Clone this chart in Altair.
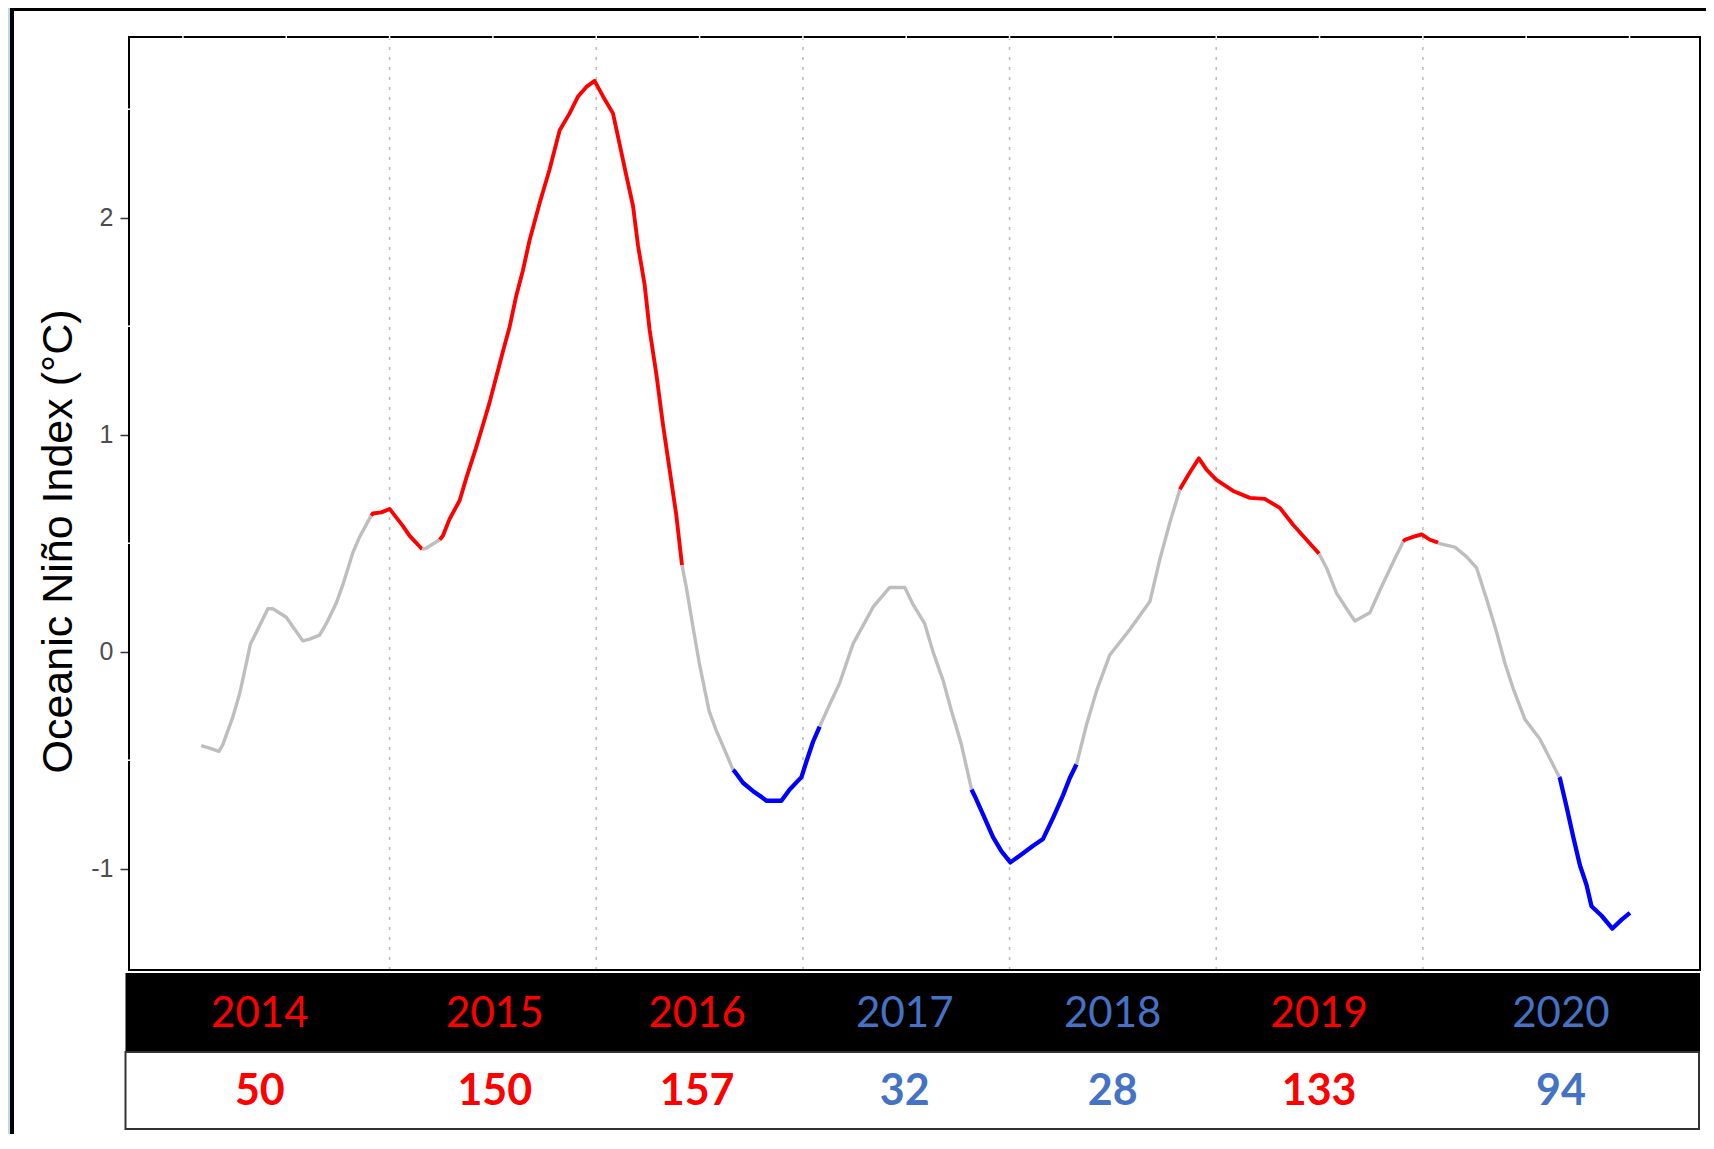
import altair as alt
import pandas as pd

# ---------------- data ----------------
# time (decimal year) and Oceanic Nino Index value of the traced line
t_vals = [
    2014.088, 2014.129, 2014.174, 2014.193, 2014.242, 2014.274, 2014.298, 2014.327, 2014.355, 2014.411,
    2014.435, 2014.500, 2014.532, 2014.580, 2014.613, 2014.661, 2014.693, 2014.742, 2014.774, 2014.822,
    2014.855, 2014.911,
    2014.919, 2014.960, 2015.000, 2015.064, 2015.097, 2015.158,
    2015.177, 2015.242,
    2015.258, 2015.290, 2015.339, 2015.371, 2015.419, 2015.452, 2015.484, 2015.516, 2015.548, 2015.581,
    2015.613, 2015.645, 2015.678, 2015.726, 2015.774, 2015.823, 2015.871, 2015.912, 2015.952, 2015.992,
    2016.033, 2016.081, 2016.113, 2016.145, 2016.178, 2016.202, 2016.234, 2016.258, 2016.291, 2016.323,
    2016.355, 2016.387, 2016.415,
    2016.436, 2016.468, 2016.500, 2016.546, 2016.581, 2016.622, 2016.662,
    2016.670, 2016.710, 2016.759, 2016.799, 2016.823, 2016.896, 2016.936, 2016.993, 2017.017, 2017.049,
    2017.081,
    2017.130, 2017.178, 2017.243, 2017.291, 2017.339, 2017.420, 2017.493, 2017.533, 2017.590, 2017.630,
    2017.678, 2017.719, 2017.767, 2017.816,
    2017.832, 2017.872, 2017.920, 2017.961, 2018.004, 2018.049, 2018.114, 2018.162, 2018.211, 2018.259,
    2018.291, 2018.324,
    2018.372, 2018.420, 2018.485, 2018.582, 2018.679, 2018.727, 2018.775, 2018.824,
    2018.832, 2018.872, 2018.916, 2018.953, 2019.001, 2019.082, 2019.163, 2019.235, 2019.308, 2019.372,
    2019.437, 2019.498,
    2019.534, 2019.582, 2019.631, 2019.671, 2019.743, 2019.792, 2019.856, 2019.905,
    2019.913, 2019.953, 2019.994, 2020.034, 2020.074,
    2020.082, 2020.155, 2020.211, 2020.260, 2020.308, 2020.357, 2020.397, 2020.437, 2020.494, 2020.566,
    2020.615, 2020.660,
    2020.663, 2020.695, 2020.728, 2020.760, 2020.792, 2020.816, 2020.865, 2020.917, 2020.962, 2021.002,
]
oni_vals = [
    -0.433, -0.444, -0.459, -0.428, -0.299, -0.195, -0.092, 0.037, 0.089, 0.198,
    0.198, 0.159, 0.115, 0.050, 0.058, 0.076, 0.128, 0.224, 0.309, 0.456,
    0.529, 0.627,
    0.637, 0.642, 0.658, 0.580, 0.534, 0.472,
    0.477, 0.516,
    0.534, 0.611, 0.697, 0.800, 0.942, 1.046, 1.149, 1.266, 1.382, 1.498,
    1.641, 1.757, 1.899, 2.067, 2.222, 2.403, 2.481, 2.559, 2.603, 2.631,
    2.559, 2.481, 2.339, 2.197, 2.054, 1.873, 1.692, 1.485, 1.278, 1.046,
    0.839, 0.632, 0.399,
    0.296, 0.115, -0.060, -0.273, -0.364, -0.454, -0.545,
    -0.552, -0.604, -0.643, -0.669, -0.687, -0.687, -0.635, -0.578, -0.506, -0.415,
    -0.345,
    -0.242, -0.144, 0.037, 0.120, 0.205, 0.296, 0.296, 0.218, 0.128, -0.002,
    -0.131, -0.273, -0.428, -0.635,
    -0.666, -0.751, -0.855, -0.920, -0.971, -0.940, -0.894, -0.863, -0.765, -0.661,
    -0.583, -0.519,
    -0.338, -0.183, -0.015, 0.102, 0.231, 0.425, 0.593, 0.748,
    0.761, 0.826, 0.891, 0.839, 0.792, 0.741, 0.709, 0.704, 0.663, 0.585,
    0.516, 0.451,
    0.386, 0.270, 0.198, 0.141, 0.179, 0.283, 0.412, 0.508,
    0.516, 0.529, 0.541, 0.516, 0.503,
    0.498, 0.482, 0.438, 0.386, 0.244, 0.089, -0.053, -0.170, -0.312, -0.402,
    -0.493, -0.578,
    -0.583, -0.713, -0.855, -0.984, -1.075, -1.173, -1.217, -1.276, -1.235, -1.204,
]
phase_vals = (["neutral"] * 22 + ["warm"] * 6 + ["neutral"] * 2 + ["warm"] * 33 +
              ["neutral"] * 7 + ["cool"] * 11 + ["neutral"] * 14 + ["cool"] * 12 +
              ["neutral"] * 8 + ["warm"] * 12 + ["neutral"] * 8 + ["warm"] * 5 +
              ["neutral"] * 12 + ["cool"] * 10)

# bottom table
year_labels = ["2014", "2015", "2016", "2017", "2018", "2019", "2020"]
year_counts = ["50", "150", "157", "32", "28", "133", "94"]
year_phase = ["warm", "warm", "warm", "cool", "cool", "warm", "cool"]
year_label_t = [2014.372, 2015.509, 2016.488, 2017.493, 2018.499, 2019.498, 2020.668]

# vertical dotted year boundaries
boundary_t = [2015, 2016, 2017, 2018, 2019, 2020]
# minor breaks (white nicks on the panel border)
minor_t = [2014.0, 2014.5, 2015.0, 2015.5, 2016.0, 2016.5, 2017.0, 2017.5,
           2018.0, 2018.5, 2019.0, 2019.5, 2020.0, 2020.5, 2021.0]
minor_v = [-0.5, 0.5, 1.5, 2.5]
y_ticks = [-1, 0, 1, 2]

# ---------------- build line segments ----------------
rows = []
seg = 0
for i, (t, v, p) in enumerate(zip(t_vals, oni_vals, phase_vals)):
    if i > 0 and p != phase_vals[i - 1]:
        seg += 1
        rows.append(dict(t=t_vals[i - 1], v=oni_vals[i - 1], phase=p, seg=seg))
    rows.append(dict(t=t, v=v, phase=p, seg=seg))
line_df = pd.DataFrame(rows)

tab_df = pd.DataFrame(dict(t=year_label_t, year=year_labels, n=year_counts, phase=year_phase))
bnd_df = pd.DataFrame(dict(t=boundary_t))
minor_x_df = pd.DataFrame(dict(t=minor_t))
minor_y_df = pd.DataFrame(dict(v=minor_v))

W, H = 1571, 933
xs = alt.Scale(domain=[2013.739, 2021.341], nice=False, zero=False)
ys = alt.Scale(domain=[-1.467, 2.833], nice=False, zero=False)
one = alt.Data(values=[{}])

# ---------------- chrome ----------------
frame_blue = alt.Chart(one).mark_rect(color="#BDD7EE").encode(
    x=alt.value(-121), x2=alt.value(-119), y=alt.value(-29), y2=alt.value(1097))
frame_left = alt.Chart(one).mark_rect(color="black").encode(
    x=alt.value(-119), x2=alt.value(-115), y=alt.value(-29), y2=alt.value(1097))
frame_top = alt.Chart(one).mark_rect(color="black").encode(
    x=alt.value(-119), x2=alt.value(1577), y=alt.value(-29), y2=alt.value(-26))

band_black = alt.Chart(one).mark_rect(color="black").encode(
    x=alt.value(-3.5), x2=alt.value(W), y=alt.value(936), y2=alt.value(1015))
band_white = alt.Chart(one).mark_rect(fill="white", stroke="#333333", strokeWidth=2).encode(
    x=alt.value(-3.5), x2=alt.value(W - 1), y=alt.value(1015), y2=alt.value(1092))

grid = alt.Chart(bnd_df).mark_rule(color="#BEBEBE", strokeDash=[3, 7], strokeWidth=1.6).encode(
    x=alt.X("t:Q", scale=xs, axis=None))

line = alt.Chart(line_df).mark_line(strokeJoin="round", strokeCap="butt").encode(
    x=alt.X("t:Q", scale=xs, axis=None),
    y=alt.Y("v:Q", scale=ys, axis=alt.Axis(
        values=y_ticks, labelExpr="'' + datum.value",
        title="Oceanic Niño Index (°C)", grid=False, domain=False,
        tickColor="#333333", tickSize=9, tickWidth=1.5, labelPadding=7,
        labelFont="Liberation Sans", labelFontSize=25, labelColor="#4D4D4D",
        titleFont="Liberation Sans", titleFontSize=43, titleFontWeight="normal", titleColor="black",
        titleAngle=270, titleAlign="center", titleBaseline="alphabetic",
        titleX=-58, titleY=504)),
    stroke=alt.Stroke("phase:N", scale=alt.Scale(domain=["neutral", "warm", "cool"],
                                                 range=["#BEBEBE", "#FF0000", "#0000FF"]),
                      legend=None),
    strokeWidth=alt.StrokeWidth("phase:N", scale=alt.Scale(domain=["neutral", "warm", "cool"],
                                                           range=[3.4, 4.3, 4.3]),
                                legend=None),
    detail="seg:N",
)

border = alt.Chart(one).mark_rect(fill="transparent", stroke="black", strokeWidth=2).encode(
    x=alt.value(0), x2=alt.value(W), y=alt.value(0), y2=alt.value(H))

nick_top = alt.Chart(minor_x_df).mark_rule(color="white", strokeWidth=1.5).encode(
    x=alt.X("t:Q", scale=xs, axis=None), y=alt.value(-2), y2=alt.value(2))
nick_left = alt.Chart(minor_y_df).mark_rule(color="white", strokeWidth=1.5).encode(
    y=alt.Y("v:Q", scale=ys), x=alt.value(-2), x2=alt.value(2))

text_fill = alt.Fill("phase:N", scale=alt.Scale(domain=["warm", "cool"], range=["#FF0000", "#4472C4"]),
                     legend=None)
years_txt = alt.Chart(tab_df).mark_text(font="Lato", fontSize=42, baseline="middle", align="center").encode(
    x=alt.X("t:Q", scale=xs, axis=None), y=alt.value(977), text="year:N", fill=text_fill)
counts_txt = alt.Chart(tab_df).mark_text(font="Lato", fontSize=43, fontWeight="bold",
                                         baseline="middle", align="center").encode(
    x=alt.X("t:Q", scale=xs, axis=None), y=alt.value(1055), text="n:N", fill=text_fill)

chart = alt.layer(
    frame_blue, frame_left, frame_top, band_black, band_white, grid, line, border,
    nick_top, nick_left, years_txt, counts_txt,
).properties(
    width=W, height=H,
    autosize=alt.AutoSizeParams(type="none"),
    padding={"left": 121, "top": 29, "right": 6, "bottom": 164},
    background="white",
).configure_view(stroke="transparent")

chart.save("out.html", embed_options={"renderer": "svg", "actions": False})
